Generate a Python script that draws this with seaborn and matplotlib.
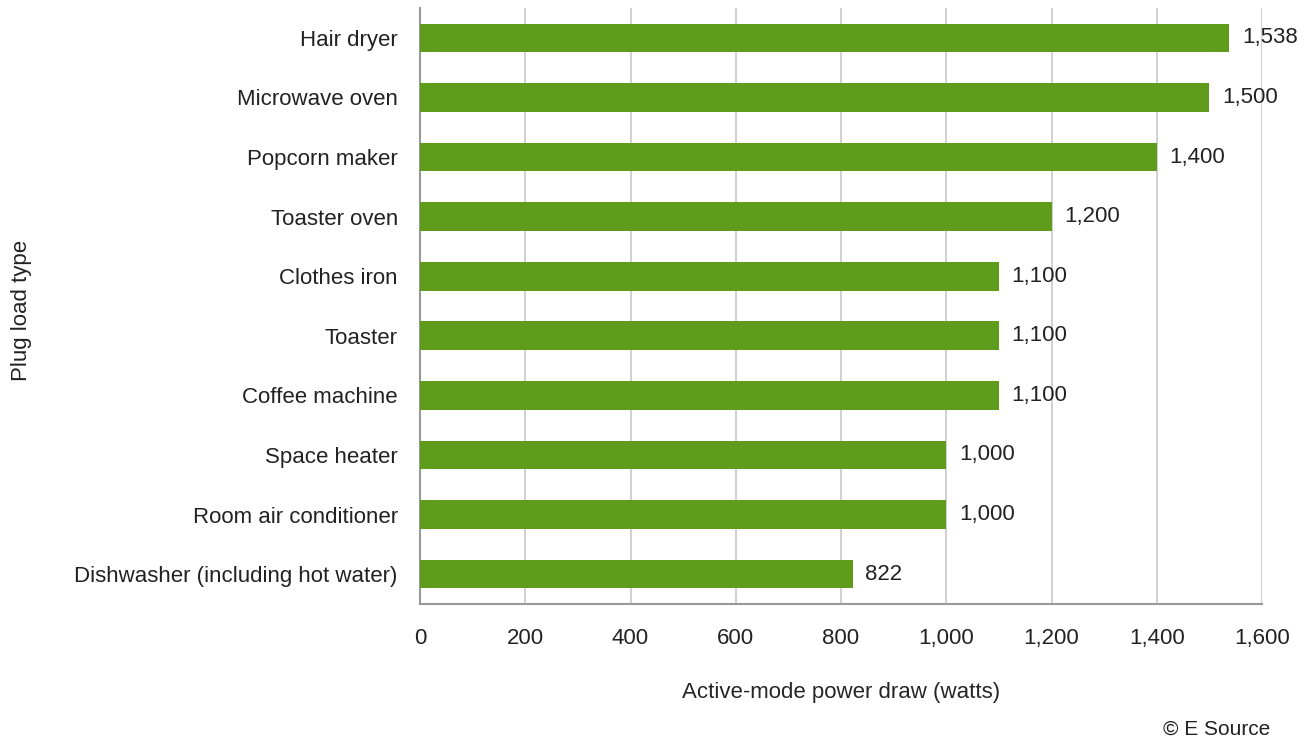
import matplotlib
matplotlib.use("Agg")
import matplotlib.pyplot as plt
import matplotlib.ticker as mticker
import seaborn as sns
import pandas as pd

# data
categories = ["Hair dryer", "Microwave oven", "Popcorn maker", "Toaster oven",
              "Clothes iron", "Toaster", "Coffee machine", "Space heater",
              "Room air conditioner", "Dishwasher (including hot water)"]
watts = [1538, 1500, 1400, 1200, 1100, 1100, 1100, 1000, 1000, 822]
x_ticks = [0, 200, 400, 600, 800, 1000, 1200, 1400, 1600]

df = pd.DataFrame({"category": categories, "watts": watts})

sns.set_theme(style="white")
plt.rcParams["font.family"] = ["Liberation Sans Narrow", "Liberation Sans", "DejaVu Sans"]
plt.rcParams["text.color"] = "#222222"

fig = plt.figure(figsize=(13.15, 7.49), dpi=100)
ax = fig.add_axes([0.3194, 0.1936, 0.6403, 0.7957])

sns.barplot(data=df, x="watts", y="category", color="#609C1C", saturation=1,
            width=0.48, linewidth=0, ax=ax, zorder=3)

for i, v in enumerate(watts):
    ax.text(v + 24, i, f"{v:,}", va="center", ha="left", fontsize=16, color="#222222")

ax.set_xlim(0, 1600)
ax.set_ylim(9.5, -0.5)
ax.set_xticks(x_ticks)
ax.xaxis.set_major_formatter(mticker.FuncFormatter(lambda x, p: f"{int(x):,}"))
ax.grid(axis="x", color="#c8c8c8", linewidth=1.2, zorder=0)
ax.tick_params(axis="x", labelsize=16, length=0, pad=17, colors="#222222")
ax.tick_params(axis="y", labelsize=16, length=0, pad=16, colors="#222222")

for s in ["top", "right"]:
    ax.spines[s].set_visible(False)
for s in ["left", "bottom"]:
    ax.spines[s].set_color("#999999")
    ax.spines[s].set_linewidth(1.5)

ax.set_xlabel("Active-mode power draw (watts)", fontsize=16, labelpad=24)
ax.set_ylabel("")
fig.text(0.016, 0.585, "Plug load type", rotation=90, fontsize=16, va="center", ha="center")
fig.text(0.966, 0.014, "\u00a9 E Source", fontsize=15, ha="right", va="bottom")

fig.savefig("out.png", dpi=100)
